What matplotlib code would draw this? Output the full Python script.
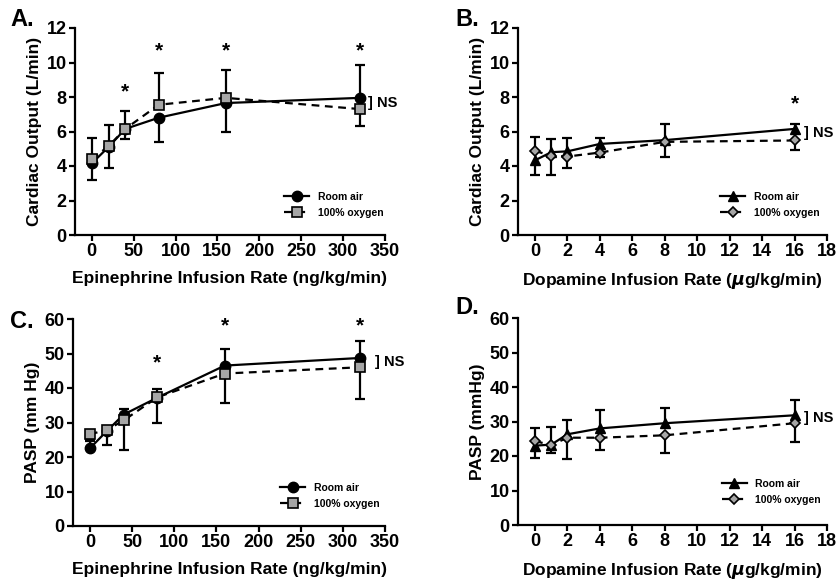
import numpy as np
import matplotlib
matplotlib.use("Agg")
import matplotlib.pyplot as plt
from matplotlib import font_manager

plt.rcParams['font.family'] = ['Liberation Sans', 'DejaVu Sans']
plt.rcParams['font.weight'] = 'bold'

nan = np.nan

# ---------------- Data ----------------
epi_rate = [0, 20, 40, 80, 160, 320]
dopa_rate = [0, 1, 2, 4, 8, 16]

# Panel A: cardiac output, epinephrine
co_epi_air = [4.15, 5.1, 6.15, 6.8, 7.65, 7.95]
co_epi_air_lo = [3.2, 3.9, 5.55, 5.4, 5.95, nan]
co_epi_air_hi = [nan, nan, nan, nan, nan, 9.85]
co_epi_o2 = [4.4, 5.15, 6.15, 7.55, 7.95, 7.3]
co_epi_o2_lo = [nan, nan, nan, nan, nan, 6.3]
co_epi_o2_hi = [5.6, 6.35, 7.2, 9.4, 9.55, nan]

# Panel B: cardiac output, dopamine
co_dopa_air = [4.33, 4.8, 4.85, 5.28, 5.5, 6.15]
co_dopa_air_lo = [3.45, nan, nan, nan, nan, nan]
co_dopa_air_hi = [nan, 5.55, 5.62, 5.6, 6.42, 6.42]
co_dopa_o2 = [4.87, 4.6, 4.55, 4.78, 5.4, 5.48]
co_dopa_o2_lo = [nan, 3.48, 3.9, 4.5, 4.5, 4.9]
co_dopa_o2_hi = [5.68, nan, nan, nan, nan, nan]

# Panel C: PASP, epinephrine
pasp_epi_air = [22.5, 27.5, 32.3, 37.2, 46.5, 48.7]
pasp_epi_air_lo = [nan, nan, nan, nan, nan, nan]
pasp_epi_air_hi = [24.5, nan, 34.0, 39.7, 51.3, 53.6]
pasp_epi_o2 = [26.6, 27.8, 30.6, 37.3, 44.2, 46.0]
pasp_epi_o2_lo = [24.8, 23.5, 21.9, 29.8, 35.7, 36.9]
pasp_epi_o2_hi = [nan, nan, nan, nan, nan, nan]

# Panel D: PASP, dopamine
pasp_dopa_air = [23.0, 23.3, 26.3, 28.0, 29.5, 31.8]
pasp_dopa_air_lo = [19.5, nan, nan, nan, nan, nan]
pasp_dopa_air_hi = [nan, 28.4, 30.5, 33.3, 33.8, 36.2]
pasp_dopa_o2 = [24.3, 23.2, 25.3, 25.3, 26.0, 29.5]
pasp_dopa_o2_lo = [nan, 21.0, 19.1, 21.8, 21.0, 24.0]
pasp_dopa_o2_hi = [28.0, nan, nan, nan, nan, nan]

# significance stars (x, y) and NS bracket text position
stars_a = [(40, 8.3), (80, 10.65), (160, 10.65), (320, 10.65)]
stars_b = [(16, 7.6)]
stars_c = [(80, 47.2), (160, 58.0), (320, 58.0)]
stars_d = []
ns_a = (330, 7.65)
ns_b = (16.6, 5.9)
ns_c = (338, 47.5)
ns_d = (16.6, 31.0)

labels = ["Room air", "100% oxygen"]

# narrow font for legend if available
_names = {f.name for f in font_manager.fontManager.ttflist}
legend_family = ['Liberation Sans Narrow'] if 'Liberation Sans Narrow' in _names else ['Liberation Sans']
legend_size = 9 if 'Liberation Sans Narrow' in _names else 7.5

fig = plt.figure(figsize=(8.37, 5.82), dpi=100)

pos = {
    'A': [75/837, 1-235/582, 310/837, 207/582],
    'B': [518/837, 1-235/582, 309/837, 207/582],
    'C': [73/837, 1-526/582, 312/837, 207/582],
    'D': [518/837, 1-525/582, 309/837, 207/582],
}


def draw_err(ax, x, y, lo, hi):
    x = np.asarray(x, float)
    y = np.asarray(y, float)
    for end in (np.asarray(lo, float), np.asarray(hi, float)):
        ax.vlines(x, y, end, colors='black', linewidth=1.6, zorder=2)
        ax.plot(x, end, linestyle='none', marker='_', markersize=7.5,
                markeredgewidth=1.6, color='black', zorder=2)


def panel(key, x, y1, lo1, hi1, y2, lo2, hi2, m1, m2, ms1, ms2,
          xlim, xticks, ylim, yticks, xlabel, ylabel, stars, ns, leg_anchor):
    ax = fig.add_axes(pos[key])
    x = np.asarray(x, float)
    draw_err(ax, x, y1, lo1, hi1)
    draw_err(ax, x, y2, lo2, hi2)
    ax.plot(x, y1, '-', color='black', marker=m1, markersize=ms1,
            markerfacecolor='black', markeredgecolor='black', lw=1.6,
            label=labels[0], zorder=3)
    ax.plot(x, y2, linestyle=(0, (3.5, 2.5)), color='black', marker=m2, markersize=ms2,
            markerfacecolor='#a6a6a6', markeredgecolor='black', markeredgewidth=1.2,
            lw=1.6, label=labels[1], zorder=4)
    ax.set_xlim(*xlim)
    ax.set_ylim(*ylim)
    ax.set_xticks(xticks)
    ax.set_yticks(yticks)
    for s in ['top', 'right']:
        ax.spines[s].set_visible(False)
    for s in ['left', 'bottom']:
        ax.spines[s].set_linewidth(1.6)
    ax.tick_params(direction='out', length=4, width=1.6, labelsize=13, pad=2)
    for lab in ax.get_xticklabels() + ax.get_yticklabels():
        lab.set_fontweight('bold')
    ax.set_xlabel(xlabel, fontsize=12.5, fontweight='bold', labelpad=8)
    ax.set_ylabel(ylabel, fontsize=12.5, fontweight='bold', labelpad=3)
    for sx, sy in stars:
        ax.text(sx, sy, '*', ha='center', va='center', fontsize=15, fontweight='bold')
    ax.text(ns[0], ns[1], '] NS', ha='left', va='center', fontsize=10.5,
            fontweight='bold', clip_on=False)
    leg = ax.legend(loc='center left', bbox_to_anchor=leg_anchor, frameon=False,
                    prop={'family': legend_family, 'size': legend_size, 'weight': 'bold'},
                    handlelength=2.4, handletextpad=0.8,
                    labelspacing=0.55, borderpad=0, borderaxespad=0)
    ax.patch.set_alpha(0)
    return ax


epi_label = 'Epinephrine Infusion Rate (ng/kg/min)'
dopa_label = 'Dopamine Infusion Rate ($\\mu$g/kg/min)'

panel('A', epi_rate, co_epi_air, co_epi_air_lo, co_epi_air_hi,
      co_epi_o2, co_epi_o2_lo, co_epi_o2_hi, 'o', 's', 7.5, 7.5,
      (-20, 350), np.arange(0, 351, 50), (0, 12), np.arange(0, 13, 2),
      epi_label, 'Cardiac Output (L/min)', stars_a, ns_a, (0.675, 0.145))
panel('B', dopa_rate, co_dopa_air, co_dopa_air_lo, co_dopa_air_hi,
      co_dopa_o2, co_dopa_o2_lo, co_dopa_o2_hi, '^', 'D', 7, 5.5,
      (-1.05, 18), np.arange(0, 19, 2), (0, 12), np.arange(0, 13, 2),
      dopa_label, 'Cardiac Output (L/min)', stars_b, ns_b, (0.655, 0.145))
panel('C', epi_rate, pasp_epi_air, pasp_epi_air_lo, pasp_epi_air_hi,
      pasp_epi_o2, pasp_epi_o2_lo, pasp_epi_o2_hi, 'o', 's', 7.5, 7.5,
      (-20, 350), np.arange(0, 351, 50), (0, 60), np.arange(0, 61, 10),
      epi_label, 'PASP (mm Hg)', stars_c, ns_c, (0.665, 0.145))
panel('D', dopa_rate, pasp_dopa_air, pasp_dopa_air_lo, pasp_dopa_air_hi,
      pasp_dopa_o2, pasp_dopa_o2_lo, pasp_dopa_o2_hi, '^', 'D', 7, 5.5,
      (-1.05, 18), np.arange(0, 19, 2), (0, 60), np.arange(0, 61, 10),
      dopa_label, 'PASP (mmHg)', stars_d, ns_d, (0.66, 0.16))

fig.text(10/837, 1-20/582, 'A.', fontsize=17, fontweight='bold', va='center', ha='left')
fig.text(455/837, 1-20/582, 'B.', fontsize=17, fontweight='bold', va='center', ha='left')
fig.text(10/837, 1-322/582, 'C.', fontsize=17, fontweight='bold', va='center', ha='left')
fig.text(455/837, 1-308/582, 'D.', fontsize=17, fontweight='bold', va='center', ha='left')

fig.savefig('out.png', dpi=100)
